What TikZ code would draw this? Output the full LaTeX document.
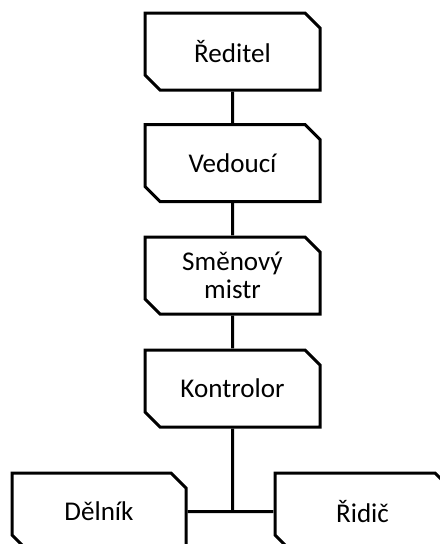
\documentclass[tikz,border=0pt]{standalone}
\usepackage{fontspec}
\setmainfont{Carlito}
\usetikzlibrary{shapes.misc}
\begin{document}
\begin{tikzpicture}[x=0.75pt,y=-0.75pt,line width=2.25pt,
    funkce/.style={draw,chamfered rectangle,chamfered rectangle corners={north east,south west},
        chamfered rectangle sep=5.6pt,minimum width=131.25pt,minimum height=57.75pt,
        inner sep=0pt,align=center,font=\fontsize{20.3}{21}\selectfont}]
            \useasboundingbox (0,0) rectangle (440,544);
            \clip (0,0) rectangle (440,544);
            \node[funkce] (reditel) at (232.5,51.5) {Ředitel};
            \node[funkce] (vedouci) at (232.5,163) {Vedoucí};
            \node[funkce] (mistr) at (232.5,275.5) {Směnový\\mistr};
            \node[funkce] (kontrolor) at (232.5,388.5) {Kontrolor};
            \node[funkce,minimum width=130.5pt] (delnik) at (99,511.5) {Dělník};
            \node[funkce] (ridic) at (362.5,511.5) {Řidič};
            \draw (reditel) -- (vedouci);
            \draw (vedouci) -- (mistr);
            \draw (mistr) -- (kontrolor);
            \draw (delnik) -- (ridic);
            \draw (kontrolor) -- (kontrolor |- delnik.east);
        \end{tikzpicture}
\end{document}
